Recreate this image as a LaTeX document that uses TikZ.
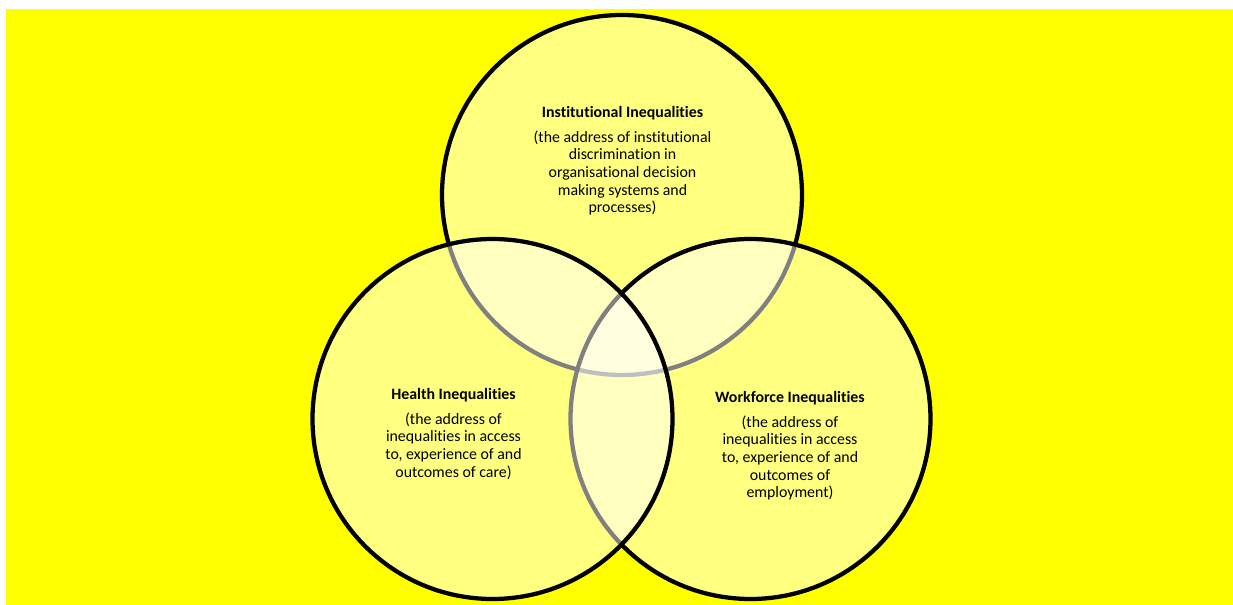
\documentclass[tikz,border=0pt]{standalone}
\usepackage{fontspec}
\setmainfont[Ligatures=CommonOff]{Carlito}
\definecolor{bgyellow}{RGB}{255,255,0}
\begin{document}
\begin{tikzpicture}[x=0.75pt,y=-0.75pt,
  venn/.style={draw=black,line width=3.2pt,fill=white,fill opacity=0.5,circle,minimum size=360*0.75pt,inner sep=0pt},
  label/.style={align=center,inner sep=0pt,font=\fontsize{11.9}{13.3}\selectfont,text opacity=1}]
\useasboundingbox (0,0) rectangle (1233,605);
\fill[white] (0,0) rectangle (1233,605);
\fill[bgyellow] (6,9) rectangle (1233,605);
% circles: top, right, left (drawing order)
\node[venn] (top) at (622,195) {};
\node[venn] (right) at (750.5,419) {};
\node[venn] (left) at (492.5,419) {};
% labels
\node[label] (toptext) at (622.5,161) {\textbf{Institutional Inequalities}\\[5pt]
(the address of institutional\\discrimination in\\organisational decision\\making systems and\\processes)};
\node[label] (lefttext) at (453.5,434) {\textbf{Health Inequalities}\\[5pt]
(the address of\\inequalities in access\\to, experience of and\\outcomes of care)};
\node[label] (righttext) at (790,446) {\textbf{Workforce Inequalities}\\[5pt]
(the address of\\inequalities in access\\to, experience of and\\outcomes of\\employment)};
\end{tikzpicture}
\end{document}
